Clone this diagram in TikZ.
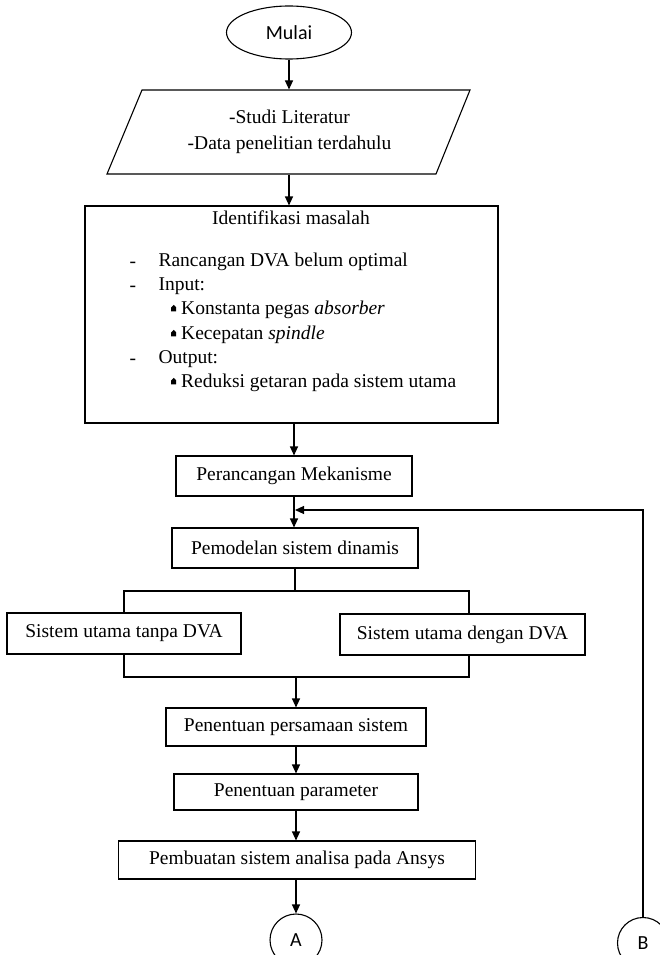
\documentclass[tikz,border=0pt]{standalone}
\usepackage{fontspec}
\setmainfont{Liberation Serif}
\newfontfamily\calib{Carlito}
\usetikzlibrary{arrows.meta,shapes.geometric}
\newcommand{\bul}{\tikz[baseline=0pt,x=1pt,y=1pt]\fill (0,3)--(5,3)--(5,7)--(2.5,9.5)--(0,7)--cycle;}
\begin{document}
\begin{tikzpicture}[x=1pt,y=-1pt,
  line width=1.1pt,
  box/.style={draw, rectangle, inner sep=0pt, font=\fontsize{19.5}{24}\selectfont},
  txt/.style={inner sep=0pt, font=\fontsize{19.5}{26}\selectfont},
  sans/.style={font=\calib\fontsize{20}{22}\selectfont},
  arr/.style={-{Triangle[length=9pt,width=8pt]}}]
\useasboundingbox (0,0) rectangle (660,955);

% start
\node[draw, ellipse, inner sep=0pt, minimum width=125, minimum height=53, sans] (start) at (289,32.5) {Mulai};

% literature (parallelogram)
\draw (142,90) -- (470,90) -- (436,174) -- (107,174) -- cycle;
\node[txt, align=center, minimum height=84] (lit) at (289.5,132) {-Studi Literatur\\-Data penelitian terdahulu};

% identification
\node[box, minimum width=413, minimum height=217] (ident) at (291.5,314.5) {};
\node[txt] (idt) at (291,218) {Identifikasi masalah};
\node[txt, anchor=mid west] (d1) at (129,265) {-};
\node[txt, anchor=mid west] (l1) at (158,264) {Rancangan DVA belum optimal};
\node[txt, anchor=mid west] (d2) at (129,289) {-};
\node[txt, anchor=mid west] (l2) at (158,288) {Input:};
\node[txt, anchor=mid west] (l3) at (171,312) {\bul\hspace{5pt}Konstanta pegas \textit{absorber}};
\node[txt, anchor=mid west] (l4) at (171,337) {\bul\hspace{5pt}Kecepatan \textit{spindle}};
\node[txt, anchor=mid west] (d3) at (129,362) {-};
\node[txt, anchor=mid west] (l5) at (158,361) {Output:};
\node[txt, anchor=mid west] (l6) at (171,385) {\bul\hspace{5pt}Reduksi getaran pada sistem utama};

% process boxes
\node[box, minimum width=236, minimum height=40] (perc) at (294,476) {Perancangan Mekanisme};
\node[box, minimum width=246, minimum height=40] (pemo) at (295,548) {Pemodelan sistem dinamis};
\node[box, minimum width=234, minimum height=41] (sl) at (124,633.5) {Sistem utama tanpa DVA};
\node[box, minimum width=245, minimum height=41] (sr) at (462.5,634.5) {Sistem utama dengan DVA};
\node[box, minimum width=260, minimum height=38] (pers) at (296,727) {Penentuan persamaan sistem};
\node[box, minimum width=244, minimum height=36] (param) at (296,792) {Penentuan parameter};
\node[box, minimum width=357, minimum height=38] (ansys) at (297,860) {Pembuatan sistem analisa pada Ansys};

% connectors
\node[draw, circle, inner sep=0pt, minimum size=52, sans] (A) at (296,940) {A};
\node[draw, circle, inner sep=0pt, minimum size=51, sans] (B) at (643,943) {B};

\coordinate (jt) at (295,591);
\coordinate (rt) at (469,591);
\coordinate (jb) at (296,677);
\coordinate (rb) at (469,677);
\coordinate (fb) at (295,510);

% arrows
\draw[arr] (start) -- (start |- lit.north);
\draw[arr] (lit.south -| start) -- (start |- ident.north);
\draw[arr] (ident.south -| perc) -- (perc);
\draw[arr] (perc) -- (perc |- pemo.north);
\draw (pemo) -- (pemo |- jt);
\draw (sl.north) |- (rt) -- (rt |- sr.north);
\draw (sl.south) |- (rb) -- (rb |- sr.south);
\draw[arr] (jb) -- (pers);
\draw[arr] (pers) -- (param);
\draw[arr] (param) -- (param |- ansys.north);
\draw[arr] (ansys.south -| A) -- (A);
\draw[arr] (B) |- (fb);
\end{tikzpicture}
\end{document}
